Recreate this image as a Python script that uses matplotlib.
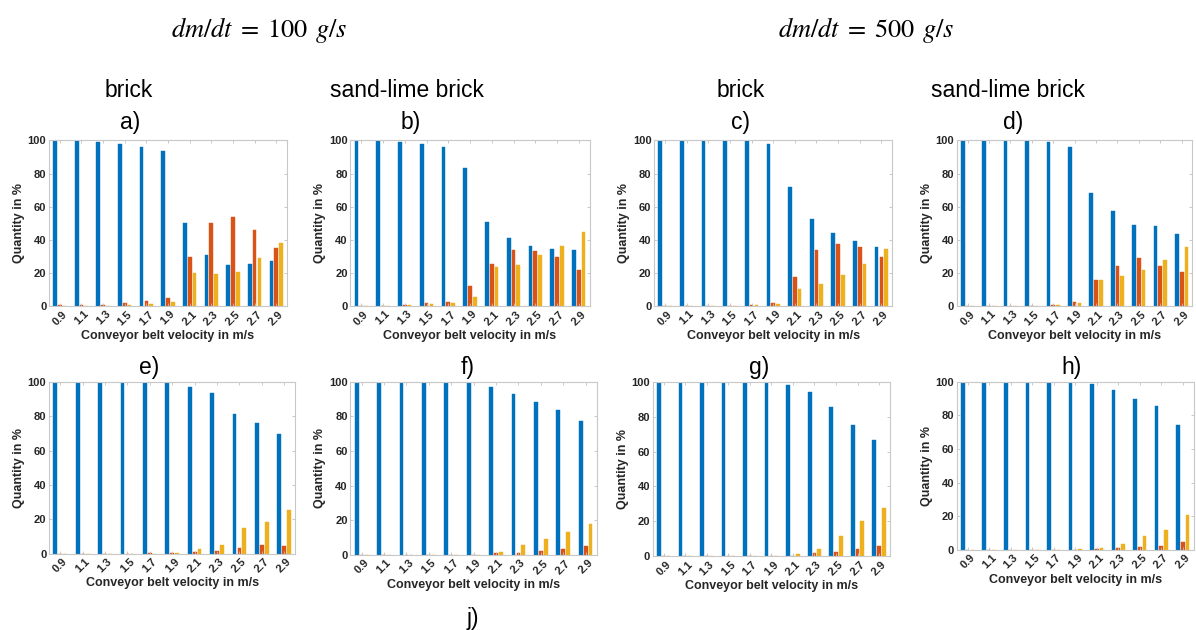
import numpy as np
import matplotlib.pyplot as plt

plt.rcParams['font.family'] = ['Liberation Sans', 'DejaVu Sans']
plt.rcParams['mathtext.fontset'] = 'stix'

# Geschwindigkeiten (Kategorien)
velocity = ['0.9', '1.1', '1.3', '1.5', '1.7', '1.9', '2.1', '2.3', '2.5', '2.7', '2.9']

# a) brick, 100 g/s
a_1 = [100, 99.4, 99.2, 97.6, 96.2, 93.4, 50.5, 30.8, 25.0, 25.6, 27.0]
a_2 = [0.5, 0.8, 0.9, 2.0, 3.3, 5.0, 29.4, 50.1, 54.1, 45.9, 35.2]
a_3 = [0, 0.4, 0.4, 1.0, 1.3, 2.4, 20.1, 19.3, 20.9, 29.0, 38.2]
# b) sand-lime brick, 100 g/s
b_1 = [100, 100, 99.0, 97.8, 96.0, 83.1, 50.9, 41.2, 36.6, 34.4, 34.0]
b_2 = [0, 0, 0.5, 1.8, 2.8, 12.1, 25.6, 34.2, 33.2, 29.4, 21.9]
b_3 = [0, 0, 1.0, 1.2, 2.0, 5.8, 23.7, 25.0, 30.6, 36.4, 44.5]
# c) brick, 500 g/s
c_1 = [100, 100, 100, 99.7, 99.4, 97.6, 72.0, 52.5, 44.1, 39.2, 36.0]
c_2 = [0, 0, 0, 0.3, 0.5, 1.8, 17.9, 34.2, 37.4, 35.6, 29.8]
c_3 = [0, 0.3, 0.3, 0.3, 0.6, 1.3, 10.3, 13.3, 18.9, 25.2, 34.8]
# d) sand-lime brick, 500 g/s
d_1 = [100, 100, 100, 99.5, 99.3, 96.2, 68.6, 57.7, 49.1, 48.1, 43.7]
d_2 = [0, 0, 0, 0.3, 0.5, 2.8, 15.7, 24.3, 29.0, 24.3, 20.5]
d_3 = [0, 0, 0.3, 0.3, 0.5, 1.8, 16.1, 18.3, 21.9, 27.8, 36.0]
# e)
e_1 = [100, 100, 100, 100, 100, 99.2, 96.7, 93.4, 81.2, 75.9, 69.5]
e_2 = [0, 0, 0, 0, 0.2, 0.3, 0.9, 1.5, 3.5, 5.2, 4.7]
e_3 = [0, 0, 0, 0, 0, 0.4, 2.5, 5.2, 15.1, 18.6, 25.6]
# f)
f_1 = [100, 100, 100, 100, 100, 99.5, 97.1, 92.7, 88.4, 83.8, 77.3]
f_2 = [0, 0, 0, 0, 0, 0.3, 1.2, 1.0, 2.5, 3.5, 5.0]
f_3 = [0, 0, 0, 0, 0, 0.3, 1.8, 6.0, 9.1, 13.1, 17.7]
# g)
g_1 = [100, 100, 100, 100, 100, 100, 98.3, 94.0, 85.8, 75.2, 66.6]
g_2 = [0.1, 0.1, 0.1, 0.1, 0.1, 0.1, 0.4, 1.8, 2.7, 4.3, 5.8]
g_3 = [0, 0, 0, 0, 0.3, 0.3, 1.5, 4.4, 11.9, 20.3, 27.6]
# h)
h_1 = [100, 100, 100, 100, 100, 100, 98.4, 95.2, 89.7, 85.5, 74.4]
h_2 = [0, 0, 0, 0.1, 0.1, 0.1, 0.5, 1.2, 2.0, 2.6, 5.0]
h_3 = [0, 0, 0, 0, 0.2, 0.3, 1.3, 3.8, 8.3, 11.9, 20.7]

cores = ['#0072BD', '#D95319', '#EDB120']
cinza = '#262626'

fig = plt.figure(figsize=(11.96, 6.30), dpi=100)

# posicoes dos eixos [left, bottom, width, height]
posicoes = [
    [0.041, 0.514, 0.199, 0.263],
    [0.293, 0.514, 0.200, 0.263],
    [0.547, 0.514, 0.199, 0.263],
    [0.800, 0.514, 0.197, 0.263],
    [0.041, 0.121, 0.206, 0.273],
    [0.293, 0.119, 0.206, 0.275],
    [0.546, 0.117, 0.198, 0.277],
    [0.800, 0.127, 0.198, 0.267],
]
series = [(a_1, a_2, a_3), (b_1, b_2, b_3), (c_1, c_2, c_3), (d_1, d_2, d_3),
          (e_1, e_2, e_3), (f_1, f_2, f_3), (g_1, g_2, g_3), (h_1, h_2, h_3)]

x = np.arange(1, len(velocity) + 1)
for pos, dados in zip(posicoes, series):
    ax = fig.add_axes(pos)
    for k in range(3):
        ax.bar(x + (k - 1) * 0.222, dados[k], width=0.17, color=cores[k],
               edgecolor=cores[k], linewidth=0.3)
    ax.set_xlim(0.5, 11.5)
    ax.set_ylim(0, 100)
    ax.set_xticks(x)
    ax.set_xticklabels(velocity, rotation=45, ha='center')
    ax.set_yticks([0, 20, 40, 60, 80, 100])
    ax.tick_params(direction='in', length=2.5, width=0.6, color='#c0c0c0',
                   top=True, right=True, labelsize=8, labelcolor=cinza, pad=2)
    for lab in ax.get_xticklabels() + ax.get_yticklabels():
        lab.set_fontweight('bold')
    for sp in ax.spines.values():
        sp.set_color('#c8c8c8')
        sp.set_linewidth(0.8)
    ax.set_xlabel('Conveyor belt velocity in m/s', fontsize=9, fontweight='bold',
                  color=cinza, labelpad=2)
    ax.set_ylabel('Quantity in %', fontsize=9, fontweight='bold', color=cinza,
                  labelpad=2)

# Titulos
fig.text(0.217, 0.952, r'$dm/dt\;=\;100\;\,g/s$', fontsize=19, ha='center', va='center')
fig.text(0.724, 0.952, r'$dm/dt\;=\;500\;\,g/s$', fontsize=19, ha='center', va='center')

materiais = ['brick', 'sand-lime brick', 'brick', 'sand-lime brick']
xm = [0.108, 0.340, 0.619, 0.843]
for m, xx in zip(materiais, xm):
    fig.text(xx, 0.857, m, fontsize=16.5, ha='center', va='center')

letras = ['a)', 'b)', 'c)', 'd)', 'e)', 'f)', 'g)', 'h)', 'j)']
xl = [0.109, 0.343, 0.619, 0.847, 0.125, 0.391, 0.635, 0.896, 0.395]
yl = [0.806, 0.806, 0.806, 0.806, 0.417, 0.417, 0.417, 0.417, 0.019]
for t, xx, yy in zip(letras, xl, yl):
    fig.text(xx, yy, t, fontsize=16.5, ha='center', va='center')

plt.savefig('out.png', dpi=100)
